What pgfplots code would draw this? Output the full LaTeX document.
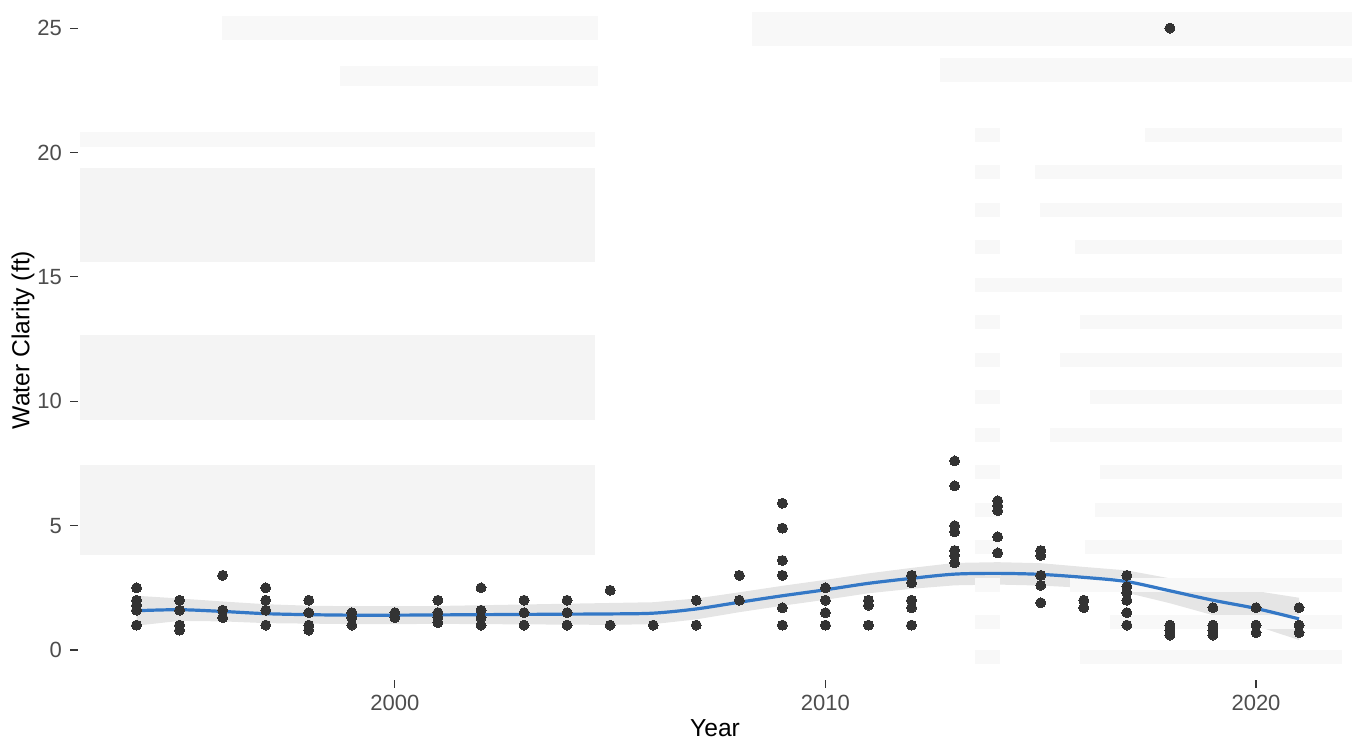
\documentclass[border=0pt]{standalone}
\usepackage{pgfplots}
\pgfplotsset{compat=1.18}
\usepackage{pgfplotstable}
\usepgfplotslibrary{fillbetween}
\usepackage{fontspec}
\setmainfont{Liberation Sans}
\definecolor{tickgray}{HTML}{4D4D4D}
\definecolor{ptcol}{HTML}{333333}
\definecolor{smoothblue}{RGB}{52,120,198}
\definecolor{ribbon}{HTML}{D0D0D0}
\definecolor{wm}{HTML}{F8F8F8}
\definecolor{wmd}{HTML}{F4F4F4}

\pgfplotstableread{
x y
1994 2.5
1994 2.0
1994 1.8
1994 1.6
1994 1.0
1995 2.0
1995 1.6
1995 1.0
1995 0.8
1996 3.0
1996 1.6
1996 1.3
1997 2.5
1997 2.0
1997 1.6
1997 1.0
1998 2.0
1998 1.5
1998 1.0
1998 0.8
1999 1.5
1999 1.3
1999 1.0
2000 1.5
2000 1.3
2001 2.0
2001 1.5
2001 1.3
2001 1.1
2002 2.5
2002 1.6
2002 1.3
2002 1.0
2003 2.0
2003 1.5
2003 1.0
2004 2.0
2004 1.5
2004 1.0
2005 2.4
2005 1.0
2006 1.0
2007 2.0
2007 1.0
2008 3.0
2008 2.0
2009 5.9
2009 4.9
2009 3.6
2009 3.0
2009 1.7
2009 1.0
2010 2.5
2010 2.0
2010 1.5
2010 1.0
2011 2.0
2011 1.8
2011 1.0
2012 3.0
2012 2.7
2012 2.0
2012 1.7
2012 1.0
2013 7.6
2013 6.6
2013 5.0
2013 4.75
2013 4.0
2013 3.8
2013 3.5
2014 6.0
2014 5.8
2014 5.6
2014 4.55
2014 3.9
2015 4.0
2015 3.8
2015 3.0
2015 2.6
2015 1.9
2016 2.0
2016 1.7
2017 3.0
2017 2.55
2017 2.3
2017 2.0
2017 1.5
2017 1.0
2018 25.0
2018 1.0
2018 0.8
2018 0.6
2019 1.7
2019 1.0
2019 0.8
2019 0.6
2020 1.7
2020 1.0
2020 0.7
2021 1.7
2021 1.0
2021 0.7
}\pts

\pgfplotstableread{
x m lo hi
1994 1.58 0.98 2.18
1995 1.62 1.17 2.07
1996 1.55 1.15 1.95
1997 1.46 1.08 1.84
1998 1.42 1.06 1.78
1999 1.40 1.04 1.76
2000 1.40 1.04 1.76
2001 1.41 1.05 1.77
2002 1.42 1.04 1.80
2003 1.43 1.03 1.83
2004 1.44 1.02 1.86
2005 1.45 1.01 1.89
2006 1.48 1.04 1.92
2007 1.65 1.23 2.07
2008 1.92 1.52 2.32
2009 2.18 1.78 2.58
2010 2.42 2.02 2.82
2011 2.68 2.28 3.08
2012 2.88 2.46 3.30
2013 3.05 2.60 3.50
2014 3.08 2.63 3.53
2015 3.04 2.59 3.49
2016 2.92 2.50 3.34
2017 2.75 2.30 3.20
2018 2.38 1.88 2.88
2019 2.00 1.40 2.60
2020 1.67 0.97 2.37
2021 1.25 0.40 2.10
}\smoothtab

\begin{document}
\begin{tikzpicture}
% faint bleed-through of the page behind the chart
\begin{scope}[shift={(-39pt,340pt)}, x=0.5pt, y=-0.5pt]
  \fill[wm] (222,16) rectangle (598,40);
  \fill[wm] (340,66) rectangle (598,86);
  \fill[wm] (80,132) rectangle (595,147);
  \fill[wmd] (80,168) rectangle (595,262);
  \fill[wmd] (80,335) rectangle (595,420);
  \fill[wmd] (80,465) rectangle (595,555);
  \fill[wm] (752,12) rectangle (1352,46);
  \fill[wm] (940,58) rectangle (1352,82);
  \foreach \yy/\xs in {128/1145,165/1035,203/1040,240/1075,278/1000,315/1080,353/1060,390/1090,428/1050,465/1100,503/1095,540/1085,578/1070,615/1110,650/1080}
    {\fill[wm] (975,\yy) rectangle (1000,\yy+14);
     \fill[wm] (\xs,\yy) rectangle (1342,\yy+14);}
\end{scope}
\begin{axis}[
  at={(0,0)}, anchor=south west,
  scale only axis,
  width=637pt, height=340pt,
  xmin=1992.64, xmax=2022.23,
  ymin=-1.206, ymax=26.13,
  axis line style={draw=none},
  tick align=outside,
  major tick length=4pt,
  tick style={color=tickgray!70!black, line width=0.55pt},
  xtick={2000,2010,2020},
  ytick={0,5,10,15,20,25},
  xtick pos=bottom, ytick pos=left,
  /pgf/number format/assume math mode=true,
  /pgf/number format/1000 sep={},
  ticklabel style={font=\fontsize{11}{13}\selectfont, text=tickgray},
  xticklabel style={anchor=north, yshift=0pt},
  yticklabel style={anchor=east, xshift=-0.5pt},
  xlabel={Year},
  ylabel={Water Clarity (ft)},
  label style={font=\fontsize{12.3}{14}\selectfont, text=black, inner sep=0pt},
  xlabel style={at={(axis description cs:0.5,-0.0715)}, anchor=center},
  ylabel style={at={(axis description cs:-0.0432,0.5)}, anchor=center, rotate=0},
  clip=false,
]
\addplot[only marks, mark=*, mark size=2.5pt, draw=none, mark options={fill=ptcol, draw=ptcol, line width=0pt}] table[x=x,y=y] {\pts};
\addplot[name path=U, draw=none, forget plot] table[x=x,y=hi] {\smoothtab};
\addplot[name path=L, draw=none, forget plot] table[x=x,y=lo] {\smoothtab};
\addplot[fill=ribbon, fill opacity=0.55, draw=none] fill between[of=U and L];
\addplot[smoothblue, line width=1.6pt, smooth] table[x=x,y=m] {\smoothtab};
\end{axis}
\pgfresetboundingbox
\path[use as bounding box] (-39pt,-31pt) rectangle (637pt,340pt);
\end{tikzpicture}
\end{document}
